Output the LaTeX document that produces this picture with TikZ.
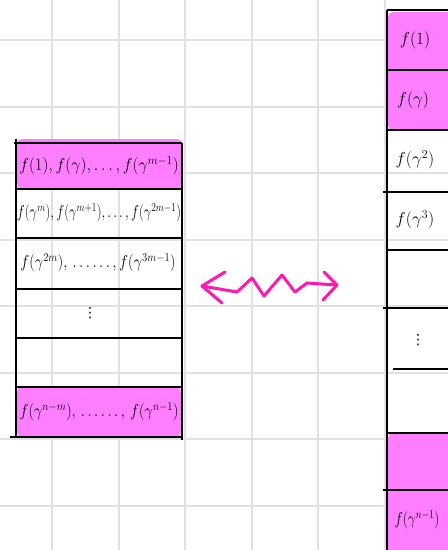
\documentclass[tikz,border=0pt]{standalone}
\usepackage{amsmath}
\usepackage{fontspec}
\newfontfamily\dejavu{DejaVu Sans}
\definecolor{hl}{RGB}{255,125,255}
\definecolor{arr}{RGB}{255,25,175}
\definecolor{gridc}{RGB}{225,225,225}
\begin{document}
\begin{tikzpicture}[x=1pt,y=-1pt,
  gridline/.style={gridc,line width=2pt},
  tline/.style={black,line width=1.6pt},
  hlbox/.style={fill=hl,rounded corners=5pt},
  cell/.style={font=\fontsize{17}{20}\selectfont,inner sep=0pt},
  rcell/.style={font=\fontsize{18}{22}\selectfont,inner sep=0pt},
  dotcell/.style={font=\dejavu\fontsize{14}{16}\selectfont,inner sep=0pt},
  squig/.style={arr,line width=3pt,line cap=round,line join=round}]
\useasboundingbox (0,0) rectangle (448,550);
\fill[white] (0,0) rectangle (448,550);
% grid
\foreach \x in {52,118.5,185,251.5,318,384.5}{\draw[gridline] (\x,0) -- (\x,550);}
\foreach \y in {40,106.5,173,239.5,306,372.5,439,505.5}{\draw[gridline] (0,\y) -- (448,\y);}
% left table highlights
\fill[hlbox] (17,139) rectangle (182,189);
\fill[hlbox] (17,387) rectangle (181,437);
% right table highlights
\fill[hlbox] (388,12) rectangle (452,130);
\fill[hlbox] (388,433) rectangle (452,555);
% left table lines
\draw[tline] (16,139) -- (16,437);
\draw[tline] (182,143) -- (182,440);
\draw[tline] (14,143) -- (182,143);
\foreach \y in {189,238,289,338,387}{\draw[tline] (16,\y) -- (182,\y);}
\draw[tline] (10,437) -- (182,437);
% right table lines
\draw[tline] (387,10) -- (387,550);
\foreach \y in {10,70,130,250,433}{\draw[tline] (387,\y) -- (448,\y);}
\foreach \y in {192,308,490}{\draw[tline] (383,\y) -- (448,\y);}
\draw[tline] (393,369) -- (448,369);
% left texts
\node[cell] (l1) at (99,166) {\scalebox{0.96}[1]{$f(1), f(\gamma), \ldots, f(\gamma^{m-1})$}};
\node[cell] (l2) at (99,213) {\scalebox{0.78}[1]{$f(\gamma^{m}), f(\gamma^{m+1}), \ldots, f(\gamma^{2m-1})$}};
\node[cell] (l3) at (98,263) {\scalebox{0.88}[1]{$f(\gamma^{2m}),\, \ldots\ldots, f(\gamma^{3m-1})$}};
\node[dotcell] (l4) at (90,313) {⋮};
\node[cell] (l6) at (99,412) {\scalebox{0.88}[1]{$f(\gamma^{n-m}),\, \ldots\ldots,\, f(\gamma^{n-1})$}};
% right texts
\node[rcell] (r1) at (415,40) {$f(1)$};
\node[rcell] (r2) at (413,100) {$f(\gamma)$};
\node[rcell] (r3) at (415,160) {$f(\gamma^{2})$};
\node[rcell] (r4) at (415,220) {$f(\gamma^{3})$};
\node[dotcell] (r6) at (418,340) {⋮};
\node[rcell] (r9) at (417,520) {\scalebox{0.82}[1]{$f(\gamma^{n-1})$}};
% squiggly arrow
\coordinate (aL) at (202,286);
\coordinate (aR) at (337,285);
\draw[squig] (aL) -- (237,292) -- (252,278) -- (264,296) -- (282,275) -- (295,292) -- (307,283) -- (aR);
\draw[squig] (225,272) -- (aL) -- (222,303);
\draw[squig] (324,272) -- (aR) -- (323,300);
\end{tikzpicture}
\end{document}
